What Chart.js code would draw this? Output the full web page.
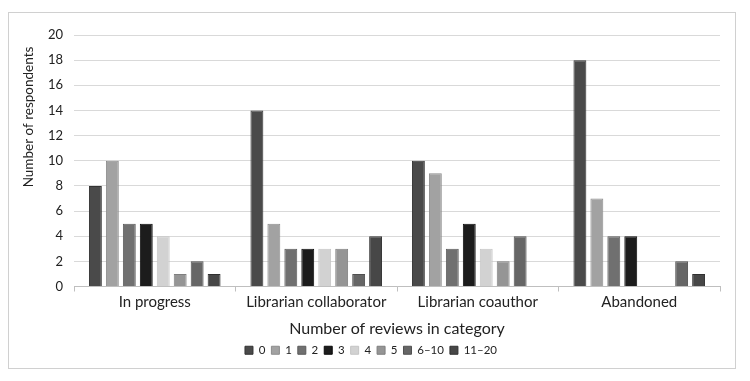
<!DOCTYPE html>
<html>
<head>
<meta charset="utf-8">
<script src="https://cdn.jsdelivr.net/npm/chart.js@4/dist/chart.umd.min.js"></script>
<style>
  html, body { margin: 0; padding: 0; background: #fff; }
  #wrap { position: relative; width: 750px; height: 381px; }
</style>
</head>
<body>
<div id="wrap"><canvas id="chart" width="750" height="381"></canvas></div>
<script>
const categories = ['In progress', 'Librarian collaborator', 'Librarian coauthor', 'Abandoned'];
const seriesNames = ['0', '1', '2', '3', '4', '5', '6\u201310', '11\u201320'];
const values0 = [8, 14, 10, 18];
const values1 = [10, 5, 9, 7];
const values2 = [5, 3, 3, 4];
const values3 = [5, 3, 5, 4];
const values4 = [4, 3, 3, 0];
const values5 = [1, 3, 2, 0];
const values6to10 = [2, 1, 4, 2];
const values11to20 = [1, 4, 0, 1];
const yTicks = [0, 2, 4, 6, 8, 10, 12, 14, 16, 18, 20];
const yTitle = 'Number of respondents';
const xTitle = 'Number of reviews in category';

const fills = ['#4a4a4a', '#a2a2a2', '#707070', '#1c1c1c', '#d2d2d2', '#959595', '#666666', '#474747'];
const borders = ['#333333', '#8c8c8c', '#5a5a5a', '#0a0a0a', '#c4c4c4', '#7f7f7f', '#505050', '#303030'];
const allValues = [values0, values1, values2, values3, values4, values5, values6to10, values11to20];

const FONT = 'Lato, "Open Sans", sans-serif';

// outer frame like the original figure
const framePlugin = {
  id: 'frame',
  beforeDraw(chart) {
    const c = chart.ctx;
    c.save();
    c.fillStyle = '#fff';
    c.fillRect(0, 0, chart.width, chart.height);
    c.strokeStyle = '#d0d0d0';
    c.lineWidth = 1;
    c.strokeRect(8.5, 12.5, 727, 356);
    c.restore();
  }
};

// the y title in the original sits above the plot's middle, so draw it by hand
const yTitlePlugin = {
  id: 'yTitle',
  afterDraw(chart) {
    const c = chart.ctx;
    c.save();
    c.translate(29, 117);
    c.rotate(-Math.PI / 2);
    c.fillStyle = '#222';
    c.font = '13.5px ' + FONT;
    c.textAlign = 'center';
    c.textBaseline = 'middle';
    c.fillText(yTitle, 0, 0);
    c.restore();
  }
};

new Chart(document.getElementById('chart'), {
  type: 'bar',
  data: {
    labels: categories,
    datasets: seriesNames.map((name, i) => ({
      label: name,
      data: allValues[i],
      backgroundColor: fills[i],
      borderColor: borders[i],
      borderWidth: 1,
      categoryPercentage: 0.84,
      barPercentage: 0.76
    }))
  },
  options: {
    responsive: false,
    animation: false,
    layout: { padding: { left: 22, right: 30, top: 35, bottom: 15 } },
    plugins: {
      legend: {
        position: 'bottom',
        labels: {
          boxWidth: 8,
          boxHeight: 8,
          padding: 6,
          color: '#222',
          font: { family: FONT, size: 11.5 }
        }
      },
      tooltip: { enabled: false }
    },
    scales: {
      x: {
        grid: { drawOnChartArea: false, drawTicks: true, tickLength: 5, color: '#bfbfbf' },
        border: { color: '#bfbfbf' },
        ticks: { color: '#222', font: { family: FONT, size: 15 }, padding: 2 },
        title: {
          display: true,
          text: xTitle,
          color: '#222',
          font: { family: FONT, size: 16 },
          padding: { top: 6, bottom: 0 }
        },
        afterFit(scale) { scale.height = 52; }
      },
      y: {
        min: 0,
        max: 20,
        afterBuildTicks(scale) { scale.ticks = yTicks.map(v => ({ value: v })); },
        grid: { color: '#d9d9d9', drawTicks: false },
        border: { display: false },
        ticks: { color: '#222', font: { family: FONT, size: 13 }, padding: 11 },
        afterFit(scale) { scale.width = 52; }
      }
    }
  },
  plugins: [framePlugin, yTitlePlugin]
});
</script>
</body>
</html>
